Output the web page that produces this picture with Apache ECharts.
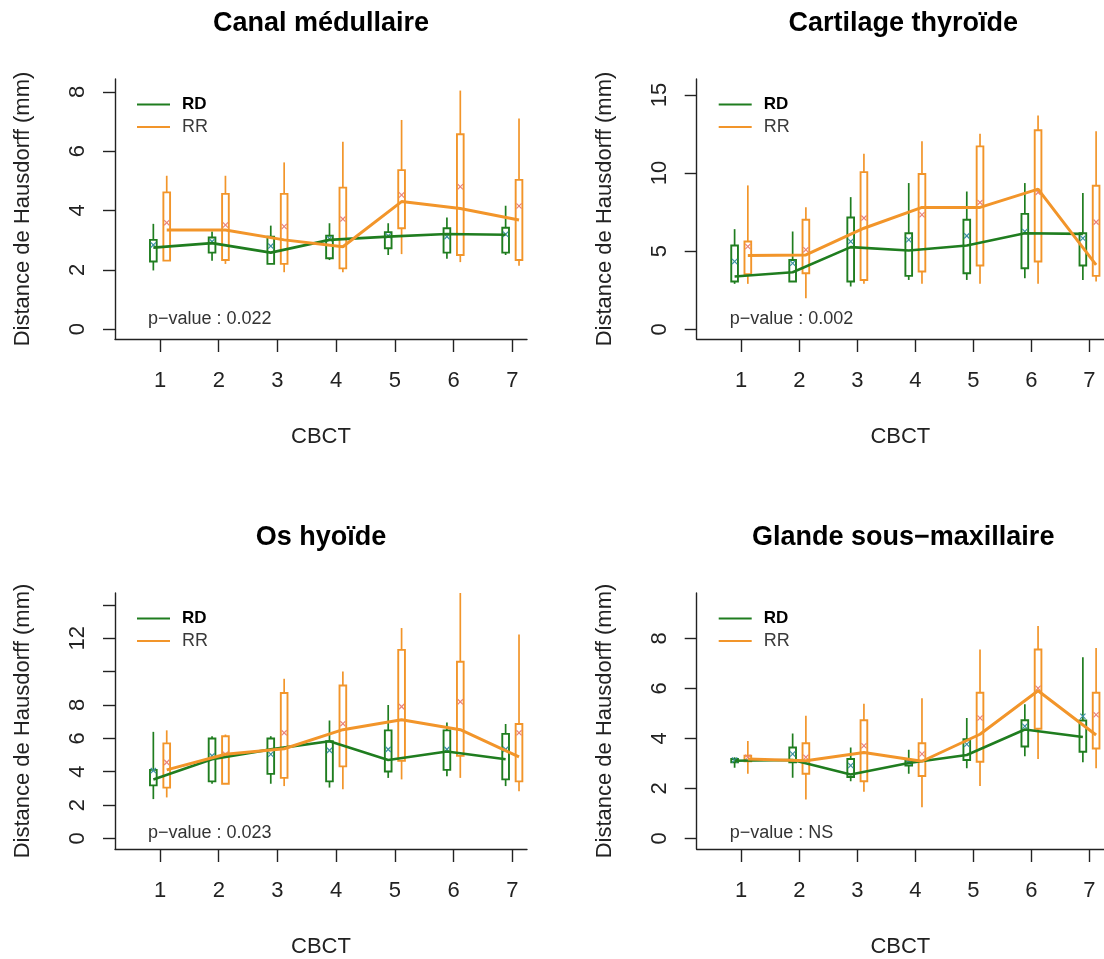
<!DOCTYPE html>
<html><head><meta charset="utf-8">
<script src="https://cdn.jsdelivr.net/npm/echarts@6/dist/echarts.min.js"></script>
<style>html,body{margin:0;padding:0;background:#fff}#c{width:1104px;height:959px}</style>
</head><body><div id="c"></div>
<script>
// ---------- DATA ----------
const cbct = [1, 2, 3, 4, 5, 6, 7];
const titles = ['Canal médullaire', 'Cartilage thyroïde', 'Os hyoïde', 'Glande sous−maxillaire'];
const pValues = ['0.022', '0.002', '0.023', 'NS'];
const groupNames = ['RD', 'RR'];

// each box: [whisker low, Q1, median, Q3, whisker high]
const canalRD = [[1.98,2.28,2.75,3.01,3.55],[2.31,2.58,2.90,3.09,3.29],[2.20,2.20,2.58,3.12,3.49],[2.33,2.39,3.01,3.15,3.57],[2.50,2.73,3.12,3.27,3.57],[2.37,2.58,3.21,3.40,3.76],[2.50,2.58,3.18,3.42,4.16]];
const canalRR = [[2.31,2.31,3.34,4.61,5.17],[2.20,2.33,3.34,4.56,5.17],[1.92,2.20,3.01,4.56,5.62],[1.92,2.05,2.78,4.77,6.32],[2.53,3.40,4.30,5.36,7.05],[2.26,2.50,4.07,6.57,8.04],[2.14,2.33,3.68,5.03,7.10]];
const canalRDMean = [2.84,2.95,2.80,3.05,3.15,3.12,3.20];
const canalRRMean = [3.59,3.51,3.46,3.71,4.52,4.80,4.15];

const thyroRD = [[2.91,3.06,3.38,5.36,6.41],[3.06,3.06,3.65,4.44,6.26],[2.74,3.06,5.26,7.16,8.46],[3.16,3.42,5.04,6.15,9.36],[3.16,3.59,5.36,7.01,8.82],[3.27,3.91,6.15,7.39,9.36],[3.16,4.08,6.11,6.15,8.72]];
const thyroRR = [[2.91,3.53,4.72,5.62,9.21],[1.99,3.59,4.76,7.01,7.82],[2.91,3.16,6.47,10.06,11.24],[2.91,3.70,7.80,9.94,12.03],[2.91,4.08,7.80,11.71,12.52],[2.91,4.34,8.97,12.74,13.68],[3.06,3.42,4.12,9.19,12.67]];
const thyroRDMean = [4.34,4.23,5.62,5.73,5.98,6.26,5.83];
const thyroRRMean = [5.30,5.09,7.12,7.33,8.12,8.76,6.86];

const hyoRD = [[2.36,3.18,3.54,4.11,6.39],[3.28,3.42,4.75,5.99,6.13],[3.28,3.87,5.34,5.99,6.13],[3.05,3.42,5.83,5.83,7.07],[3.63,4.01,4.70,6.48,8.00],[3.73,4.11,5.21,6.48,6.95],[3.14,3.54,4.75,6.27,6.86]];
const hyoRR = [[2.46,3.05,4.11,5.70,6.48],[3.28,3.28,5.05,6.13,6.23],[3.14,3.63,5.38,8.72,9.57],[2.95,4.32,6.52,9.17,10.00],[3.54,4.66,7.11,11.30,12.61],[3.63,4.95,6.52,10.59,14.71],[2.83,3.42,4.89,6.86,12.22]];
const hyoRDMean = [4.07,4.95,5.05,5.28,5.34,5.34,5.34];
const hyoRRMean = [4.56,5.05,6.33,6.88,7.90,8.19,6.33];

const glandeRD = [[2.83,3.05,3.11,3.18,3.25],[2.43,3.05,3.14,3.64,4.20],[2.29,2.46,2.56,3.18,3.64],[2.59,2.92,3.02,3.11,3.55],[2.81,3.14,3.34,3.97,4.82],[3.29,3.68,4.36,4.73,5.37],[3.05,3.47,4.06,4.72,7.25]];
const glandeRR = [[2.59,3.09,3.18,3.31,3.90],[1.56,2.59,3.11,3.81,4.91],[1.87,2.29,3.44,4.73,5.39],[1.25,2.50,3.09,3.81,5.61],[2.10,3.07,4.17,5.83,7.56],[3.18,4.39,5.91,7.56,8.50],[2.81,3.60,4.14,5.83,7.62]];
const glandeRDMean = [3.14,3.38,2.92,3.05,3.77,4.49,4.89];
const glandeRRMean = [3.25,3.25,3.71,3.38,4.82,6.01,4.95];

// y-axis tick values and labelled values per panel
const yTicks = [[0,2,4,6,8],[0,5,10,15],[0,2,4,6,8,10,12,14],[0,2,4,6,8]];
const yLabels = [[0,2,4,6,8],[0,5,10,15],[0,2,4,6,8,12],[0,2,4,6,8]];

// ---------- LAYOUT / STYLE ----------
const FONT = "'Liberation Sans', Arial, Helvetica, sans-serif";
const GREEN = '#1f7d1f', ORANGE = '#f2952a';
const GREEN_MEAN = '#3a8fa0', ORANGE_MEAN = '#e8837a';
const AX = '#222';
const DODGE = 0.114;
const grids = [
  {left: 115, top: 79, width: 412, height: 260},
  {left: 696.7, top: 79, width: 413, height: 260},
  {left: 115, top: 593, width: 412, height: 260},
  {left: 696.7, top: 593, width: 413, height: 260}
];
const yRanges = [[-0.33, 8.43], [-0.62, 16.02], [-0.63, 14.71], [-0.42, 9.82]];
const xRange = [0.233, 7.25];

const panels = [
  {rd: canalRD, rr: canalRR, rdm: canalRDMean, rrm: canalRRMean},
  {rd: thyroRD, rr: thyroRR, rdm: thyroRDMean, rrm: thyroRRMean},
  {rd: hyoRD, rr: hyoRR, rdm: hyoRDMean, rrm: hyoRRMean},
  {rd: glandeRD, rr: glandeRR, rdm: glandeRDMean, rrm: glandeRRMean}
];

function boxRenderer(color, meanColor, dodge) {
  return function (params, api) {
    const x = api.value(0) + dodge;
    const lo = api.coord([x, api.value(1)]);
    const q1 = api.coord([x, api.value(2)]);
    const q3 = api.coord([x, api.value(4)]);
    const hi = api.coord([x, api.value(5)]);
    const mn = api.coord([x, api.value(6)]);
    const cx = lo[0], w = 6.7, m = 2.6;
    const ls = {stroke: color, lineWidth: 1.7, fill: null};
    return {type: 'group', children: [
      {type: 'line', shape: {x1: cx, y1: lo[1], x2: cx, y2: q1[1]}, style: ls},
      {type: 'line', shape: {x1: cx, y1: q3[1], x2: cx, y2: hi[1]}, style: ls},
      {type: 'rect', shape: {x: cx - w / 2, y: q3[1], width: w, height: q1[1] - q3[1]},
        style: {stroke: color, lineWidth: 1.9, fill: 'rgba(0,0,0,0)'}},
      {type: 'line', shape: {x1: cx - m, y1: mn[1] - m, x2: cx + m, y2: mn[1] + m}, style: {stroke: meanColor, lineWidth: 1.2}},
      {type: 'line', shape: {x1: cx - m, y1: mn[1] + m, x2: cx + m, y2: mn[1] - m}, style: {stroke: meanColor, lineWidth: 1.2}}
    ]};
  };
}

const option = {
  backgroundColor: '#fff',
  animation: false,
  grid: grids.map(g => Object.assign({containLabel: false}, g)),
  xAxis: grids.map((g, i) => ({
    type: 'value', gridIndex: i, min: xRange[0], max: xRange[1],
    axisLine: {show: true, onZero: false, lineStyle: {color: AX, width: 1.4}},
    axisTick: {show: true, customValues: cbct, length: 13, lineStyle: {color: AX, width: 1.4}},
    axisLabel: {customValues: cbct, fontSize: 22, color: '#222', fontFamily: FONT, margin: 31},
    splitLine: {show: false},
    name: 'CBCT', nameLocation: 'middle', nameGap: 87,
    nameTextStyle: {fontSize: 22, color: '#222', fontFamily: FONT}
  })),
  yAxis: grids.map((g, i) => ({
    type: 'value', gridIndex: i, min: yRanges[i][0], max: yRanges[i][1],
    axisLine: {show: true, onZero: false, lineStyle: {color: AX, width: 1.4}},
    axisTick: {show: true, customValues: yTicks[i], length: 12, lineStyle: {color: AX, width: 1.4}},
    axisLabel: {customValues: yLabels[i], rotate: 90, fontSize: 22, color: '#222', fontFamily: FONT, margin: 26},
    splitLine: {show: false},
    name: 'Distance de Hausdorff (mm)', nameLocation: 'middle', nameGap: 81,
    nameTextStyle: {fontSize: 22, color: '#222', fontFamily: FONT}
  })),
  legend: grids.map((g, i) => ({
    data: groupNames, orient: 'vertical', left: g.left + 17, top: g.top + 12,
    icon: 'rect', itemWidth: 33, itemHeight: 2.2, itemGap: 5, selectedMode: false,
    formatter: n => n === 'RD' ? '{b|' + n + '}' : '{n|' + n + '}',
    textStyle: {rich: {
      b: {fontSize: 17, fontWeight: 'bold', color: '#000', fontFamily: FONT, padding: [0, 0, 0, 7], lineHeight: 18},
      n: {fontSize: 18, color: '#3a3a3a', fontFamily: FONT, padding: [0, 0, 0, 7], lineHeight: 18}
    }}
  })),
  graphic: [],
  series: []
};

panels.forEach((p, i) => {
  const g = grids[i];
  [['RD', p.rd, p.rdm, GREEN, GREEN_MEAN, -DODGE], ['RR', p.rr, p.rrm, ORANGE, ORANGE_MEAN, DODGE]].forEach(([name, boxes, means, col, mcol, dodge]) => {
    option.series.push({
      type: 'custom', name: name + ' box', xAxisIndex: i, yAxisIndex: i, z: 2,
      renderItem: boxRenderer(col, mcol, dodge),
      encode: {x: 0, y: [1, 2, 3, 4, 5, 6]},
      data: cbct.map((c, k) => [c].concat(boxes[k]).concat([means[k]]))
    });
  });
  option.series.push({
    type: 'line', name: 'RD', xAxisIndex: i, yAxisIndex: i, z: 3, symbol: 'none',
    lineStyle: {color: GREEN, width: 2.6}, itemStyle: {color: GREEN},
    data: cbct.map((c, k) => [c - DODGE, p.rd[k][2]])
  });
  option.series.push({
    type: 'line', name: 'RR', xAxisIndex: i, yAxisIndex: i, z: 3, symbol: 'none',
    lineStyle: {color: ORANGE, width: 3}, itemStyle: {color: ORANGE},
    data: cbct.map((c, k) => [c + DODGE, p.rr[k][2]])
  });
  option.graphic.push({
    type: 'text', x: g.left + g.width / 2, y: g.top - 55,
    style: {text: titles[i], fontSize: 27, fontWeight: 'bold', fontFamily: FONT, fill: '#000',
      textAlign: 'center', textVerticalAlign: 'middle', align: 'center', verticalAlign: 'middle'}
  });
  option.graphic.push({
    type: 'text', x: g.left + 33, y: g.top + g.height - 20,
    style: {text: 'p−value : ' + pValues[i], fontSize: 18, fontFamily: FONT, fill: '#333',
      textAlign: 'left', textVerticalAlign: 'middle', align: 'left', verticalAlign: 'middle'}
  });
});

const chart = echarts.init(document.getElementById('c'), null, {renderer: 'canvas'});
chart.setOption(option);
</script>
</body></html>
